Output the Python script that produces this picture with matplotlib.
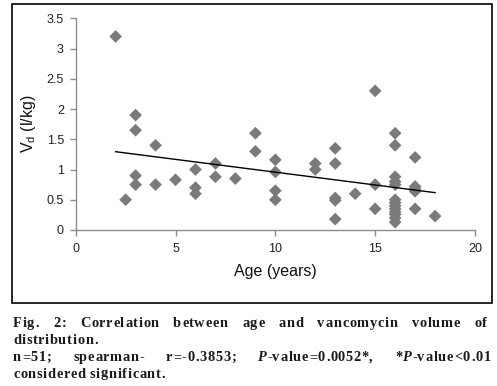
import matplotlib
matplotlib.use("Agg")
import matplotlib.pyplot as plt
import numpy as np
from matplotlib.patches import Rectangle
from matplotlib.font_manager import FontProperties, findfont, get_font

# ---- data ----
age = [2, 2.5, 3, 3, 3, 3, 4, 4, 5, 6, 6, 6, 7, 7, 8, 9, 9,
       10, 10, 10, 10, 12, 12, 13, 13, 13, 13, 13, 14, 15, 15, 15,
       16, 16, 16, 16, 16, 16, 16, 16, 16, 16, 16, 16, 16,
       17, 17, 17, 17, 17, 18]
vd = [3.2, 0.5, 1.9, 1.65, 0.9, 0.75, 1.4, 0.75, 0.83, 1.0, 0.7, 0.6, 1.1, 0.88, 0.85, 1.6, 1.3,
      1.16, 0.96, 0.65, 0.5, 1.1, 1.0, 1.35, 1.1, 0.53, 0.49, 0.18, 0.6, 2.3, 0.75, 0.35,
      1.6, 1.4, 0.88, 0.8, 0.75, 0.5, 0.45, 0.4, 0.35, 0.3, 0.26, 0.2, 0.13,
      1.2, 0.72, 0.68, 0.64, 0.35, 0.23]
# trend line (Excel linear trendline)
trend_intercept = 1.379
trend_slope = -0.0423
x_ticks = [0, 5, 10, 15, 20]
y_ticks = [0, 0.5, 1, 1.5, 2, 2.5, 3, 3.5]
y_tick_labels = ["0", "0.5", "1", "1.5", "2", "2.5", "3", "3.5"]

caption_lines = [
    ([[("Fig.", "normal")], [("2:", "normal")], [("Correlation", "normal")], [("between", "normal")],
      [("age", "normal")], [("and", "normal")], [("vancomycin", "normal")], [("volume", "normal")],
      [("of", "normal")]], True),
    ([[("distribution.", "normal")]], False),
    ([[("n=51;", "normal")], [("spearman-", "normal")], [("r=-0.3853;", "normal")],
      [("P", "italic"), ("-value=0.0052*,", "normal")], [("*", "normal"), ("P", "italic"), ("-value<0.01", "normal")]], True),
    ([[("considered", "normal")], [("significant.", "normal")]], False),
]

W, H = 497, 386
fig = plt.figure(figsize=(W / 100, H / 100), dpi=100)
plt.rcParams['font.family'] = ['Liberation Sans', 'DejaVu Sans']
plt.rcParams['mathtext.fontset'] = 'custom'
plt.rcParams['mathtext.rm'] = 'Liberation Sans'

# border box
fig.patches.append(Rectangle((12 / W, 1 - 303 / H), 480 / W, 299 / H, transform=fig.transFigure,
                             fill=False, edgecolor='black', linewidth=1.2))

ax = fig.add_axes([75.7 / W, 1 - 230 / H, (475 - 75.7) / W, (230 - 18.3) / H])
ax.scatter(age, vd, marker='D', s=42, color='#7a7a7a', edgecolors='none', zorder=3)

xs = np.array([min(age), max(age)])
ax.plot(xs, trend_intercept + trend_slope * xs, color='black', linewidth=1.0, zorder=4)

ax.set_xlim(0, 20)
ax.set_ylim(0, 3.5)
ax.set_xticks(x_ticks)
ax.set_xticklabels([str(t) for t in x_ticks])
ax.set_yticks(y_ticks)
ax.set_yticklabels(y_tick_labels)
for s in ['top', 'right']:
    ax.spines[s].set_visible(False)
for s in ['left', 'bottom']:
    ax.spines[s].set_color('#8c8c8c')
    ax.spines[s].set_linewidth(1.0)
ax.tick_params(axis='both', colors='#8c8c8c', labelcolor='#222222', labelsize=9, length=4.5, width=1.0)
ax.tick_params(axis='x', pad=5)
ax.tick_params(axis='y', pad=4)
ax.set_xlabel("Age (years)", fontsize=11.5, color='#111111', labelpad=6)
ax.set_ylabel(r"$\mathrm{V_d}$ (l/kg)", fontsize=11.5, color='#111111', labelpad=6)
ax.patch.set_alpha(0)

# caption: justified, slightly letter-spaced bold serif
CAP_FAMILY = 'Liberation Serif'
CAP_SIZE = 10.4
track = 0.7  # extra px between letters
fonts = {}
for st in ("normal", "italic"):
    f = get_font(findfont(FontProperties(family=CAP_FAMILY, weight='bold', style=st)))
    f.set_size(CAP_SIZE, 100)
    fonts[st] = f

def glyph(c, style):
    g = fonts[style].load_char(ord(c))
    return g.linearHoriAdvance / 65536.0, g.horiBearingX / 64.0

def piece_width(txt, style):
    return sum(glyph(c, style)[0] + track for c in txt)

def draw_piece(x, base, txt, style):
    for c in txt:
        a, lsb = glyph(c, style)
        fig.text((x + max(lsb, 0)) / W, 1 - base / H, c, family=[CAP_FAMILY], weight='bold', style=style,
                 fontsize=CAP_SIZE, color='#1a1a1a', va='baseline', ha='left')
        x += a + track
    return x

left_px, right_px = 12.5, 492.5
baselines = [327, 344, 361, 377.5]
space_w = glyph(" ", "normal")[0] + track
for (words, justify), base in zip(caption_lines, baselines):
    wsum = sum(piece_width(p, st) for word in words for p, st in word) - track
    if justify and len(words) > 1:
        gap = (right_px - left_px - wsum) / (len(words) - 1)
    else:
        gap = space_w
    x = left_px
    for word in words:
        for p, st in word:
            x = draw_piece(x, base, p, st)
        x += gap - track

fig.savefig("out.png", dpi=100)
